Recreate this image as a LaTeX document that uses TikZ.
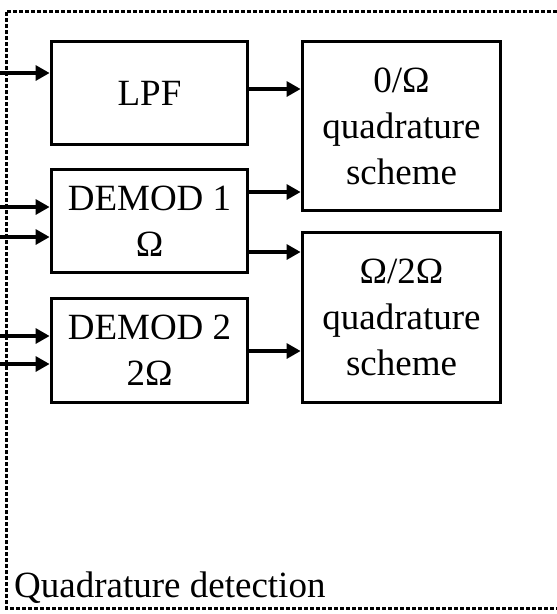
\documentclass[tikz,border=0pt]{standalone}
\usepackage{fontspec}
\setmainfont{Liberation Serif}
\usetikzlibrary{arrows.meta}
\begin{document}
\begin{tikzpicture}[x=1pt,y=-1pt,
  blk/.style={draw,line width=3.8pt,inner sep=0pt,align=center,
    font=\fontsize{37}{46}\selectfont},
  arr/.style={line width=3.2pt,-{Triangle[length=14pt,width=15pt]}},
  border/.style={line width=3pt,dash pattern=on 4pt off 2pt}]
\useasboundingbox (0,0) rectangle (557,614);
\draw[border] (557,11) -- (6,11) -- (6,608) -- (557,608);
\node[blk,minimum width=196pt,minimum height=103pt] (lpf) at (149.5,93) {LPF};
\node[blk,minimum width=196pt,minimum height=103pt] (d1) at (149.5,221) {DEMOD 1\\Ω};
\node[blk,minimum width=196pt,minimum height=104pt] (d2) at (149.5,350.5) {DEMOD 2\\2Ω};
\node[blk,minimum width=198pt,minimum height=169pt] (q1) at (401.5,126) {0/Ω\\quadrature\\scheme};
\node[blk,minimum width=198pt,minimum height=170pt] (q2) at (401.5,317.5) {Ω/2Ω\\quadrature\\scheme};
\node[anchor=base west,inner sep=0pt,font=\fontsize{37}{46}\selectfont] (lbl) at (14,597) {Quadrature detection};
\coordinate (i1) at (0,73);
\coordinate (i2) at (0,207);
\coordinate (i3) at (0,237);
\coordinate (i4) at (0,336);
\coordinate (i5) at (0,364);
\draw[arr] (i1) -- (i1 -| lpf.west);
\draw[arr] (i2) -- (i2 -| d1.west);
\draw[arr] (i3) -- (i3 -| d1.west);
\draw[arr] (i4) -- (i4 -| d2.west);
\draw[arr] (i5) -- (i5 -| d2.west);
\draw[arr] (lpf.east |- 0,89) -- (q1.west |- 0,89);
\draw[arr] (d1.east |- 0,192) -- (q1.west |- 0,192);
\draw[arr] (d1.east |- 0,252) -- (q2.west |- 0,252);
\draw[arr] (d2.east |- 0,351) -- (q2.west |- 0,351);
\end{tikzpicture}
\end{document}
